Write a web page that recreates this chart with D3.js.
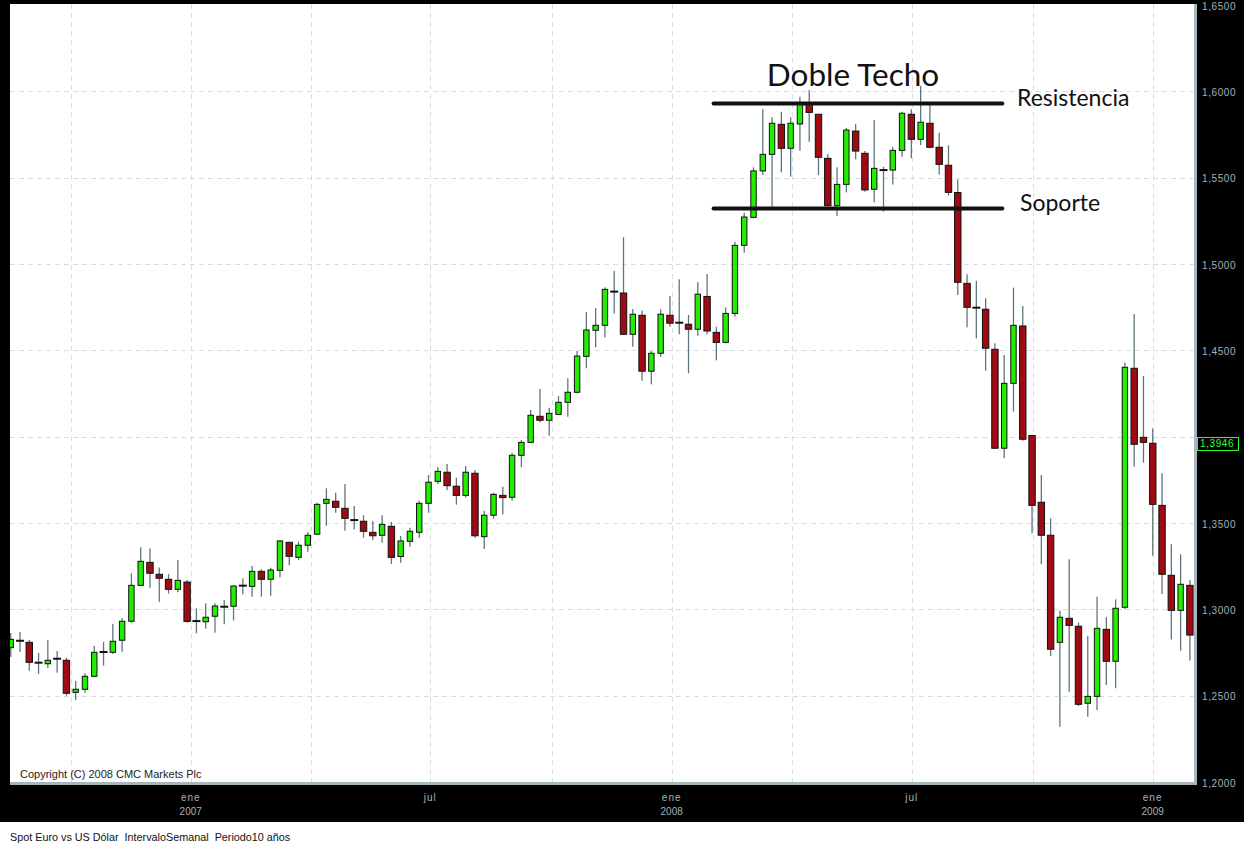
<!DOCTYPE html>
<html>
<head>
<meta charset="utf-8">
<script src="https://cdn.jsdelivr.net/npm/d3@7"></script>
<style>
body { margin: 0; background: #fff; }
svg { display: block; }
text { font-family: "Liberation Sans", Arial, sans-serif; }
</style>
</head>
<body>
<svg width="1244" height="847"></svg>
<script>
// weekly EUR/USD candles (week index 0 = first bar on the left)
var open  = [1.2778,1.2818,1.2809,1.2691,1.2685,1.2714,1.2705,1.2519,1.2537,1.2612,1.2753,1.2751,1.2821,1.2931,1.3139,1.3272,1.3203,1.3174,1.3116,1.3158,
             1.2932,1.2928,1.2960,1.3015,1.3018,1.3137,1.3133,1.3220,1.3174,1.3226,1.3388,1.3301,1.3371,1.3435,1.3614,1.3626,1.3585,1.3517,1.3510,1.3446,
             1.3429,1.3481,1.3306,1.3394,1.3446,1.3614,1.3741,1.3794,1.3713,1.3660,1.3788,1.3421,1.3545,1.3660,1.3649,1.3892,1.3967,1.4118,1.4095,1.4129,
             1.4199,1.4257,1.4465,1.4616,1.4645,1.4840,1.4832,1.4593,1.4703,1.4379,1.4483,1.4703,1.4660,1.4651,1.4622,1.4812,1.4604,1.4546,1.4714,1.5108,
             1.5270,1.5539,1.5635,1.5809,1.5670,1.5811,1.5925,1.5867,1.5612,1.5338,1.5461,1.5770,1.5641,1.5433,1.5544,1.5544,1.5658,1.5867,1.5722,1.5815,
             1.5676,1.5572,1.5414,1.4888,1.4747,1.4738,1.4506,1.3933,1.4309,1.4641,1.4007,1.3620,1.3429,1.2809,1.2948,1.2902,1.2456,1.2496,1.2884,1.2699,
             1.3012,1.4396,1.3996,1.3962,1.3602,1.3197,1.2994,1.3139];
var high  = [1.2863,1.2869,1.2822,1.2747,1.2822,1.2759,1.2720,1.2585,1.2630,1.2788,1.2811,1.2915,1.2950,1.3209,1.3359,1.3353,1.3243,1.3205,1.3286,1.3170,
             1.3006,1.3035,1.3035,1.3054,1.3139,1.3180,1.3251,1.3232,1.3241,1.3402,1.3392,1.3392,1.3448,1.3618,1.3701,1.3675,1.3726,1.3598,1.3545,1.3512,
             1.3545,1.3506,1.3425,1.3473,1.3629,1.3778,1.3824,1.3842,1.3762,1.3830,1.3807,1.3571,1.3675,1.3710,1.3907,1.3981,1.4154,1.4276,1.4168,1.4235,
             1.4338,1.4496,1.4722,1.4745,1.4865,1.4959,1.5155,1.4739,1.4730,1.4496,1.4738,1.4815,1.4911,1.4705,1.4894,1.4942,1.4637,1.4749,1.5129,1.5297,
             1.5560,1.5896,1.5850,1.5882,1.5850,1.5969,1.6008,1.5870,1.5637,1.5560,1.5788,1.5811,1.5654,1.5834,1.5563,1.5679,1.5882,1.5896,1.6031,1.5921,
             1.5760,1.5687,1.5490,1.4940,1.4903,1.4801,1.4541,1.4473,1.4863,1.4757,1.4010,1.3778,1.3527,1.2992,1.3290,1.2923,1.2846,1.3073,1.2954,1.3058,
             1.4428,1.4710,1.4351,1.4048,1.3788,1.3377,1.3319,1.3170];
var low   = [1.2724,1.2753,1.2645,1.2625,1.2660,1.2633,1.2500,1.2475,1.2517,1.2608,1.2674,1.2741,1.2755,1.2923,1.3137,1.3125,1.3044,1.3091,1.3099,1.2924,
             1.2861,1.2888,1.2865,1.2913,1.2936,1.3087,1.3073,1.3073,1.3079,1.3186,1.3255,1.3286,1.3334,1.3430,1.3484,1.3560,1.3455,1.3463,1.3415,1.3402,
             1.3386,1.3263,1.3270,1.3363,1.3415,1.3560,1.3726,1.3691,1.3606,1.3647,1.3415,1.3349,1.3525,1.3550,1.3629,1.3823,1.3962,1.4083,1.4006,1.4125,
             1.4116,1.4251,1.4396,1.4518,1.4575,1.4714,1.4590,1.4521,1.4324,1.4303,1.4463,1.4637,1.4593,1.4367,1.4585,1.4593,1.4442,1.4541,1.4695,1.5065,
             1.5265,1.5515,1.5332,1.5531,1.5506,1.5656,1.5708,1.5515,1.5333,1.5278,1.5415,1.5606,1.5419,1.5357,1.5303,1.5461,1.5621,1.5612,1.5689,1.5670,
             1.5519,1.5396,1.4820,1.4633,1.4570,1.4382,1.3929,1.3875,1.4145,1.3977,1.3440,1.3261,1.2730,1.2320,1.2523,1.2440,1.2378,1.2417,1.2562,1.2543,
             1.3000,1.3826,1.3849,1.3311,1.3089,1.2826,1.2760,1.2703];
var close = [1.2826,1.2818,1.2693,1.2691,1.2705,1.2714,1.2514,1.2537,1.2612,1.2751,1.2753,1.2815,1.2931,1.3139,1.3278,1.3209,1.3180,1.3116,1.3168,1.2930,
             1.2932,1.2954,1.3019,1.3015,1.3135,1.3137,1.3220,1.3174,1.3228,1.3396,1.3307,1.3371,1.3429,1.3608,1.3637,1.3591,1.3527,1.3517,1.3452,1.3426,
             1.3492,1.3301,1.3396,1.3452,1.3614,1.3736,1.3799,1.3716,1.3660,1.3794,1.3426,1.3545,1.3666,1.3647,1.3892,1.3967,1.4124,1.4095,1.4135,1.4199,
             1.4257,1.4467,1.4618,1.4645,1.4853,1.4840,1.4593,1.4709,1.4379,1.4483,1.4709,1.4657,1.4660,1.4622,1.4825,1.4612,1.4546,1.4714,1.5108,1.5272,
             1.5539,1.5635,1.5815,1.5670,1.5815,1.5934,1.5878,1.5618,1.5338,1.5461,1.5776,1.5654,1.5429,1.5554,1.5544,1.5658,1.5873,1.5722,1.5821,1.5676,
             1.5577,1.5415,1.4894,1.4749,1.4747,1.4512,1.3933,1.4309,1.4645,1.3985,1.3602,1.3429,1.2769,1.2954,1.2907,1.2450,1.2496,1.2890,1.2699,1.3006,
             1.4402,1.3956,1.3967,1.3608,1.3203,1.2994,1.3145,1.2851];

// quarterly grid lines, in week-index units; only some are labelled
var gridWeeks  = [6.46, 19.39, 32.31, 45.19, 58.26, 71.19, 84.12, 97.04, 110.05, 122.99];
var gridMonths = ["", "ene", "", "jul", "", "ene", "", "jul", "", "ene"];
var gridYears  = ["", "2007", "", "", "", "2008", "", "", "", "2009"];

var priceTicks = [1.20, 1.25, 1.30, 1.35, 1.40, 1.45, 1.50, 1.55, 1.60, 1.65];
var lastPrice = 1.3946;

// hand drawn "double top" markup
var resistance = 1.5930, support = 1.5322;
var markFrom = 75.7, markTo = 106.8;

var svg = d3.select("svg");
var plotL = 10, plotT = 4, plotR = 1194, plotB = 782;

var x = d3.scaleLinear().domain([0, 127]).range([10.7, 1189.9]);
var y = d3.scaleLinear().domain([1.20, 1.65]).range([782, 5]);
var es = d3.formatLocale({decimal: ",", thousands: ".", grouping: [3], currency: ["", "€"]});
var fmt = es.format(".4f");

var candles = open.map(function(o, i) {
  return {i: i, o: o, h: high[i], l: low[i], c: close[i]};
});

// frame
svg.append("rect").attr("width", 1244).attr("height", 822).attr("fill", "#000");
svg.append("rect").attr("x", plotL).attr("y", plotT)
    .attr("width", plotR - plotL).attr("height", plotB - plotT).attr("fill", "#fff");
svg.append("rect").attr("x", plotR).attr("y", plotT).attr("width", 3).attr("height", plotB - plotT + 3).attr("fill", "#a7b5bc");
svg.append("rect").attr("x", plotL).attr("y", plotB).attr("width", plotR - plotL + 3).attr("height", 3).attr("fill", "#a7b5bc");

svg.append("clipPath").attr("id", "plot")
  .append("rect").attr("x", plotL).attr("y", plotT).attr("width", plotR - plotL).attr("height", plotB - plotT);

// grid
var grid = svg.append("g").attr("stroke", "#d3dee6").attr("stroke-dasharray", "5,4").attr("stroke-width", 1);
grid.selectAll(".hg")
  .data(priceTicks.filter(function(p) { return p > 1.2 && p < 1.65; }))
  .enter().append("line")
    .attr("x1", plotL).attr("x2", plotR)
    .attr("y1", function(d) { return Math.round(y(d)) + 0.5; })
    .attr("y2", function(d) { return Math.round(y(d)) + 0.5; });
grid.selectAll(".vg")
  .data(gridWeeks)
  .enter().append("line")
    .attr("y1", plotT).attr("y2", plotB)
    .attr("x1", function(d) { return Math.round(x(d)) + 0.5; })
    .attr("x2", function(d) { return Math.round(x(d)) + 0.5; });

svg.append("text")
    .attr("x", 20).attr("y", 778)
    .attr("font-size", 11).attr("fill", "#222")
    .text("Copyright (C) 2008 CMC Markets Plc");

// candles
var cg = svg.append("g").attr("clip-path", "url(#plot)");
var candle = cg.selectAll(".candle").data(candles).enter().append("g").attr("class", "candle");

candle.append("line")
    .attr("x1", function(d) { return x(d.i); })
    .attr("x2", function(d) { return x(d.i); })
    .attr("y1", function(d) { return y(d.h); })
    .attr("y2", function(d) { return y(d.l); })
    .attr("stroke", "#5f767e")
    .attr("stroke-width", 1.3);

candle.filter(function(d) { return d.o !== d.c; })
  .append("rect")
    .attr("x", function(d) { return x(d.i) - (d.c > d.o ? 2.7 : 3.2); })
    .attr("width", function(d) { return d.c > d.o ? 5.4 : 6.4; })
    .attr("y", function(d) { return y(Math.max(d.o, d.c)); })
    .attr("height", function(d) { return Math.max(1, Math.abs(y(d.o) - y(d.c))); })
    .attr("fill", function(d) { return d.c > d.o ? "#22ee00" : "#a00a12"; })
    .attr("stroke", "#111")
    .attr("stroke-width", 1);

candle.filter(function(d) { return d.o === d.c; })
  .append("line")
    .attr("x1", function(d) { return x(d.i) - 4; })
    .attr("x2", function(d) { return x(d.i) + 4; })
    .attr("y1", function(d) { return y(d.c); })
    .attr("y2", function(d) { return y(d.c); })
    .attr("stroke", "#111")
    .attr("stroke-width", 2);

// markup: resistance / support
var mark = svg.append("g");
[resistance, support].forEach(function(p) {
  mark.append("line")
      .attr("x1", x(markFrom)).attr("x2", x(markTo))
      .attr("y1", y(p)).attr("y2", y(p))
      .attr("stroke", "#111").attr("stroke-width", 4)
      .attr("stroke-linecap", "round");
});
mark.append("text")
    .attr("x", 853).attr("y", 86)
    .attr("text-anchor", "middle")
    .style("font-family", "Lato, 'Open Sans', sans-serif")
    .attr("font-size", 31.5).attr("fill", "#111")
    .text("Doble Techo");
mark.append("text")
    .attr("x", 1017).attr("y", y(resistance) + 2.5)
    .style("font-family", "Lato, 'Open Sans', sans-serif")
    .attr("font-size", 23).attr("fill", "#111")
    .text("Resistencia");
mark.append("text")
    .attr("x", 1020).attr("y", y(support) + 3)
    .style("font-family", "Lato, 'Open Sans', sans-serif")
    .attr("font-size", 23).attr("fill", "#111")
    .text("Soporte");

// right price axis
var yLast = y(lastPrice);
svg.append("g").selectAll("text")
  .data(priceTicks.filter(function(p) { return Math.abs(y(p) - yLast) > 12; }))
  .enter().append("text")
    .attr("x", 1202)
    .attr("y", function(d) { return y(d) + 4.5; })
    .attr("font-size", 10).attr("letter-spacing", 0.6)
    .attr("fill", "#a6b2b9")
    .text(function(d) { return fmt(d); });

svg.append("rect")
    .attr("x", 1197.5).attr("y", yLast - 8.5)
    .attr("width", 41).attr("height", 13)
    .attr("fill", "#000").attr("stroke", "#2bff2b").attr("stroke-width", 1);
svg.append("text")
    .attr("x", 1200).attr("y", yLast + 1.5)
    .attr("font-size", 10).attr("letter-spacing", 0.6)
    .attr("fill", "#33ff33")
    .text(fmt(lastPrice));

// bottom time axis
var xa = svg.append("g").attr("fill", "#a6b2b9").attr("font-size", 10).attr("text-anchor", "middle");
gridWeeks.forEach(function(w, k) {
  if (gridMonths[k]) {
    xa.append("text").attr("x", x(w)).attr("y", 801).attr("letter-spacing", 1).text(gridMonths[k]);
  }
  if (gridYears[k]) {
    xa.append("text").attr("x", x(w)).attr("y", 815).text(gridYears[k]);
  }
});

// footer
svg.append("text")
    .attr("x", 10).attr("y", 841)
    .attr("font-size", 10.8).attr("fill", "#111")
    .style("white-space", "pre")
    .text("Spot Euro vs US Dólar  IntervaloSemanal  Periodo10 años");
</script>
</body>
</html>
